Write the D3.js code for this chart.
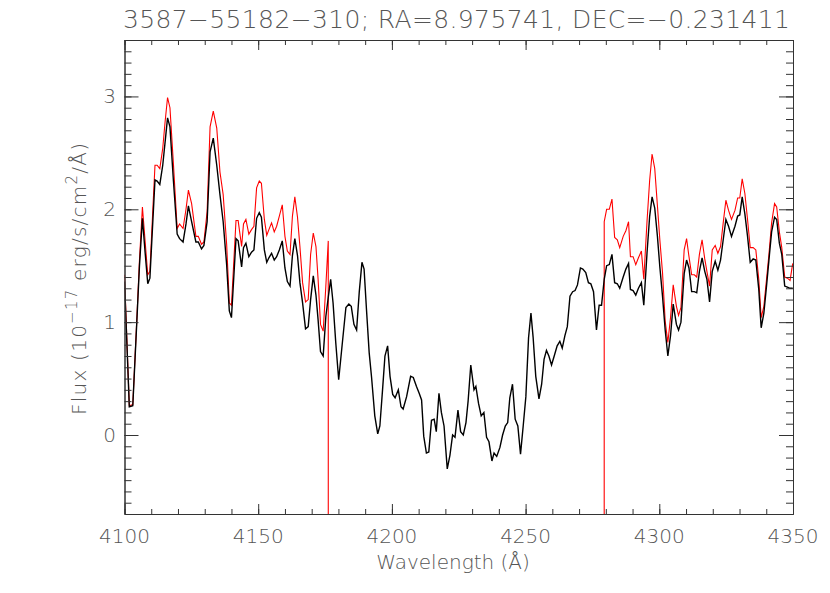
<!DOCTYPE html>
<html><head><meta charset="utf-8">
<script src="https://cdn.jsdelivr.net/npm/d3@7"></script>
<style>
body{margin:0;background:#fff;}
text{font-family:"DejaVu Sans ExtraLight","DejaVu Sans",sans-serif;font-weight:200;fill:#555;}
</style></head>
<body><svg id="c" width="830" height="593"></svg>
<script>
const title = "3587\u221255182\u2212310; RA=8.975741, DEC=\u22120.231411";
const xTicks = [4100, 4150, 4200, 4250, 4300, 4350];
const yTicks = [0, 1, 2, 3];

const wave = [4100.0,4101.8,4103.1,4104.6,4105.6,4106.7,4107.7,4108.7,4109.5,4110.5,4111.4,4112.2,4113.2,4114.3,4115.2,4116.1,4117.0,4118.3,4119.7,4120.6,4121.9,4123.0,4123.9,4125.1,4126.7,4127.6,4128.8,4129.7,4130.9,4132.0,4133.2,4134.5,4135.7,4136.9,4138.2,4139.2,4140.0,4141.7,4142.5,4143.8,4144.5,4145.4,4146.5,4147.5,4148.4,4149.4,4150.4,4151.2,4152.3,4153.2,4154.0,4155.0,4156.0,4156.9,4157.9,4159.0,4160.0,4160.9,4161.9,4162.8,4163.7,4164.7,4165.6,4166.6,4167.7,4168.7,4169.6,4170.6,4171.6,4172.4,4173.3,4174.3,4175.3,4176.2,4177.1,4178.0,4179.0,4180.1,4181.4,4182.8,4183.9,4184.8,4185.8,4186.8,4187.8,4188.8,4189.6,4190.5,4191.5,4192.4,4193.6,4194.7,4195.5,4196.5,4197.4,4198.4,4199.3,4200.3,4201.2,4202.4,4203.4,4204.2,4205.5,4207.0,4208.0,4209.2,4210.2,4211.1,4211.9,4212.9,4213.8,4214.8,4215.8,4216.6,4217.6,4218.5,4219.5,4220.7,4221.7,4222.7,4223.6,4224.7,4225.7,4226.7,4227.7,4228.5,4229.5,4230.7,4231.4,4232.4,4233.4,4234.4,4235.4,4236.3,4237.4,4238.2,4239.2,4240.4,4241.4,4242.4,4243.3,4244.1,4245.1,4246.1,4247.1,4248.1,4249.1,4250.1,4251.1,4252.0,4252.8,4253.8,4255.0,4256.0,4256.9,4257.8,4258.7,4259.7,4260.7,4261.8,4262.8,4263.7,4264.7,4265.6,4266.6,4267.6,4268.5,4269.4,4270.5,4271.4,4272.5,4273.5,4274.4,4275.4,4276.5,4277.5,4278.4,4279.4,4280.3,4281.3,4282.3,4283.3,4284.3,4285.2,4286.5,4287.5,4288.5,4289.2,4290.2,4291.2,4292.2,4293.3,4294.2,4295.4,4296.4,4297.3,4298.3,4299.3,4300.2,4301.2,4302.2,4303.2,4304.2,4305.2,4306.4,4307.2,4308.1,4309.3,4310.2,4311.1,4312.1,4313.1,4314.0,4315.0,4316.0,4317.0,4317.8,4318.8,4319.8,4320.9,4321.9,4322.9,4323.9,4324.9,4325.9,4327.0,4328.3,4329.3,4330.1,4331.0,4332.0,4333.0,4334.0,4335.1,4336.1,4337.2,4338.1,4339.1,4340.1,4341.0,4342.0,4343.1,4343.9,4344.9,4345.8,4346.9,4347.9,4348.9,4349.9];

const fluxBlack = [1.36,0.25,0.26,1.00,1.50,1.92,1.62,1.34,1.39,1.85,2.26,2.25,2.22,2.39,2.60,2.81,2.73,2.25,1.78,1.74,1.71,1.87,2.03,1.89,1.71,1.71,1.65,1.68,1.89,2.51,2.63,2.39,2.13,1.89,1.51,1.10,1.04,1.74,1.72,1.49,1.66,1.70,1.58,1.62,1.64,1.92,1.97,1.93,1.64,1.53,1.57,1.61,1.55,1.58,1.64,1.72,1.48,1.36,1.32,1.59,1.74,1.59,1.35,1.17,0.94,0.96,1.20,1.41,1.24,1.02,0.74,0.70,1.05,1.22,1.38,1.17,0.82,0.49,0.80,1.13,1.16,1.14,0.98,0.93,1.27,1.53,1.47,1.11,0.73,0.51,0.17,0.01,0.08,0.40,0.70,0.79,0.52,0.36,0.33,0.40,0.25,0.23,0.34,0.52,0.51,0.43,0.37,0.31,-0.01,-0.16,-0.15,0.13,0.14,0.03,0.37,0.20,0.08,-0.30,-0.18,0.00,-0.02,0.22,0.03,0.00,0.11,0.30,0.62,0.40,0.43,0.28,0.17,0.20,-0.02,-0.06,-0.23,-0.16,-0.19,-0.11,0.00,0.08,0.11,0.33,0.45,0.14,0.08,-0.17,0.08,0.34,0.86,1.08,0.87,0.52,0.32,0.45,0.67,0.75,0.70,0.62,0.70,0.79,0.83,0.77,0.88,0.96,1.23,1.27,1.28,1.33,1.48,1.47,1.44,1.35,1.34,1.27,0.93,1.15,1.15,1.38,1.50,1.51,1.60,1.35,1.34,1.30,1.40,1.47,1.52,1.29,1.28,1.24,1.30,1.35,1.15,1.61,1.94,2.11,2.01,1.76,1.49,1.23,0.93,0.70,0.88,1.16,0.98,0.93,1.00,1.43,1.55,1.48,1.27,1.27,1.26,1.45,1.57,1.45,1.38,1.18,1.45,1.54,1.46,1.55,1.73,1.91,1.85,1.76,1.85,1.94,1.95,2.11,1.96,1.76,1.53,1.56,1.55,1.29,0.95,1.08,1.32,1.55,1.80,1.93,1.91,1.70,1.60,1.32,1.31,1.30,1.30];

// red series: masked region drops far below the plotted range
const waveRed = [4100.0,4101.8,4103.1,4104.6,4105.6,4106.7,4107.7,4108.7,4109.5,4110.5,4111.4,4112.2,4113.2,4114.3,4115.2,4116.1,4117.0,4118.3,4119.7,4120.6,4121.9,4123.0,4123.9,4125.1,4126.7,4127.6,4128.8,4129.7,4130.9,4132.0,4133.2,4134.5,4135.7,4136.9,4138.2,4139.2,4140.0,4141.7,4142.5,4143.8,4144.5,4145.4,4146.5,4147.5,4148.4,4149.4,4150.4,4151.2,4152.3,4153.2,4154.0,4155.0,4156.0,4156.9,4157.9,4159.0,4160.0,4160.9,4161.9,4162.8,4163.7,4164.7,4165.6,4166.6,4167.7,4168.7,4169.6,4170.6,4171.6,4172.4,4173.3,4174.3,4175.3,4176.2,4176.3,4279.3,4279.4,4280.3,4281.3,4282.3,4283.3,4284.3,4285.2,4286.5,4287.5,4288.5,4289.2,4290.2,4291.2,4292.2,4293.3,4294.2,4295.4,4296.4,4297.3,4298.3,4299.3,4300.2,4301.2,4302.2,4303.2,4304.2,4305.2,4306.4,4307.2,4308.1,4309.3,4310.2,4311.1,4312.1,4313.1,4314.0,4315.0,4316.0,4317.0,4317.8,4318.8,4319.8,4320.9,4321.9,4322.9,4323.9,4324.9,4325.9,4327.0,4328.3,4329.3,4330.1,4331.0,4332.0,4333.0,4334.0,4335.1,4336.1,4337.2,4338.1,4339.1,4340.1,4341.0,4342.0,4343.1,4343.9,4344.9,4345.8,4346.9,4347.9,4348.9,4349.9];
const fluxRed = [1.42,0.26,0.27,1.02,1.55,2.02,1.72,1.42,1.45,1.95,2.39,2.39,2.36,2.54,2.78,2.99,2.90,2.40,1.83,1.87,1.83,2.00,2.17,2.05,1.76,1.76,1.69,1.71,1.98,2.73,2.87,2.72,2.33,2.13,1.69,1.17,1.15,1.90,1.90,1.67,1.87,1.91,1.78,1.82,1.85,2.19,2.25,2.23,1.91,1.77,1.82,1.88,1.80,1.85,1.94,2.04,1.76,1.63,1.60,1.94,2.11,1.93,1.67,1.35,1.18,1.20,1.60,1.79,1.67,1.38,0.98,0.92,1.32,1.72,-40,-40,1.89,2.00,2.00,2.09,1.75,1.73,1.66,1.76,1.81,1.89,1.58,1.58,1.51,1.57,1.63,1.38,1.89,2.26,2.49,2.36,2.03,1.73,1.44,1.01,0.82,1.04,1.33,1.14,1.06,1.13,1.64,1.74,1.58,1.42,1.42,1.40,1.60,1.73,1.56,1.45,1.32,1.64,1.68,1.61,1.67,1.88,2.08,1.99,1.91,1.99,2.10,2.10,2.27,2.14,1.91,1.66,1.66,1.64,1.38,1.04,1.14,1.38,1.60,1.88,2.05,2.02,1.80,1.66,1.40,1.39,1.37,1.52];

const svg = d3.select("#c");
const L = 124.5, R = 793, T = 40, B = 514;
const x = d3.scaleLinear().domain([4100, 4350]).range([L, R]);
const y = d3.scaleLinear().domain([-0.7, 3.5]).range([B, T]);

svg.append("defs").append("clipPath").attr("id","clip")
  .append("rect").attr("x",L).attr("y",T).attr("width",R-L).attr("height",B-T);

const line = d3.line().x(d=>x(d[0])).y(d=>y(d[1]));
const plot = svg.append("g").attr("clip-path","url(#clip)");
plot.append("path").datum(waveRed.map((w,i)=>[w,fluxRed[i]]))
  .attr("d",line).attr("fill","none").attr("stroke","#ff0000").attr("stroke-width",1.1);
plot.append("path").datum(wave.map((w,i)=>[w,fluxBlack[i]]))
  .attr("d",line).attr("fill","none").attr("stroke","#000").attr("stroke-width",1.4);

const axCol = "#333";
function styleAxis(g){ g.selectAll("path").attr("stroke",axCol); g.selectAll("line").attr("stroke",axCol); g.selectAll("text").remove(); }
const xMinor = d3.range(4100, 4351, 10);
const yMinor = d3.range(-7, 36).map(v=>v/10);

// bottom
svg.append("g").attr("transform",`translate(0,${B})`).call(d3.axisBottom(x).tickValues(xMinor).tickSizeInner(-5).tickSizeOuter(0)).call(styleAxis);
svg.append("g").attr("transform",`translate(0,${B})`).call(d3.axisBottom(x).tickValues(xTicks).tickSizeInner(-10).tickSizeOuter(0)).call(styleAxis);
// top
svg.append("g").attr("transform",`translate(0,${T})`).call(d3.axisTop(x).tickValues(xMinor).tickSizeInner(-5).tickSizeOuter(0)).call(styleAxis);
svg.append("g").attr("transform",`translate(0,${T})`).call(d3.axisTop(x).tickValues(xTicks).tickSizeInner(-10).tickSizeOuter(0)).call(styleAxis);
// left
svg.append("g").attr("transform",`translate(${L},0)`).call(d3.axisLeft(y).tickValues(yMinor).tickSizeInner(-7).tickSizeOuter(0)).call(styleAxis);
svg.append("g").attr("transform",`translate(${L},0)`).call(d3.axisLeft(y).tickValues(yTicks).tickSizeInner(-14).tickSizeOuter(0)).call(styleAxis);
// right
svg.append("g").attr("transform",`translate(${R},0)`).call(d3.axisRight(y).tickValues(yMinor).tickSizeInner(-7).tickSizeOuter(0)).call(styleAxis);
svg.append("g").attr("transform",`translate(${R},0)`).call(d3.axisRight(y).tickValues(yTicks).tickSizeInner(-14).tickSizeOuter(0)).call(styleAxis);

// tick labels
svg.append("g").selectAll("text").data(xTicks).join("text")
  .attr("x",d=>x(d)).attr("y",543).attr("text-anchor","middle").attr("font-size",20).text(d=>d);
svg.append("g").selectAll("text").data(yTicks).join("text")
  .attr("x",116).attr("y",d=>y(d)+7).attr("text-anchor","end").attr("font-size",20).text(d=>d);

// title
svg.append("text").attr("x",123).attr("y",28).attr("font-size",25)
  .attr("textLength",667).attr("lengthAdjust","spacing").text(title);

// x label
svg.append("text").attr("x",453).attr("y",569).attr("text-anchor","middle").attr("font-size",20).text("Wavelength (\u00c5)");

// y label
const yl = svg.append("text").attr("transform","translate(86,279) rotate(-90)").attr("text-anchor","middle").attr("font-size",20)
  .attr("textLength",272).attr("lengthAdjust","spacing");
yl.append("tspan").text("Flux (10");
yl.append("tspan").attr("font-size",15).attr("dy",-9).text("\u221217");
yl.append("tspan").attr("dy",9).text(" erg/s/cm");
yl.append("tspan").attr("font-size",15).attr("dy",-9).text("2");
yl.append("tspan").attr("dy",9).text("/\u00c5)");
</script></body></html>
